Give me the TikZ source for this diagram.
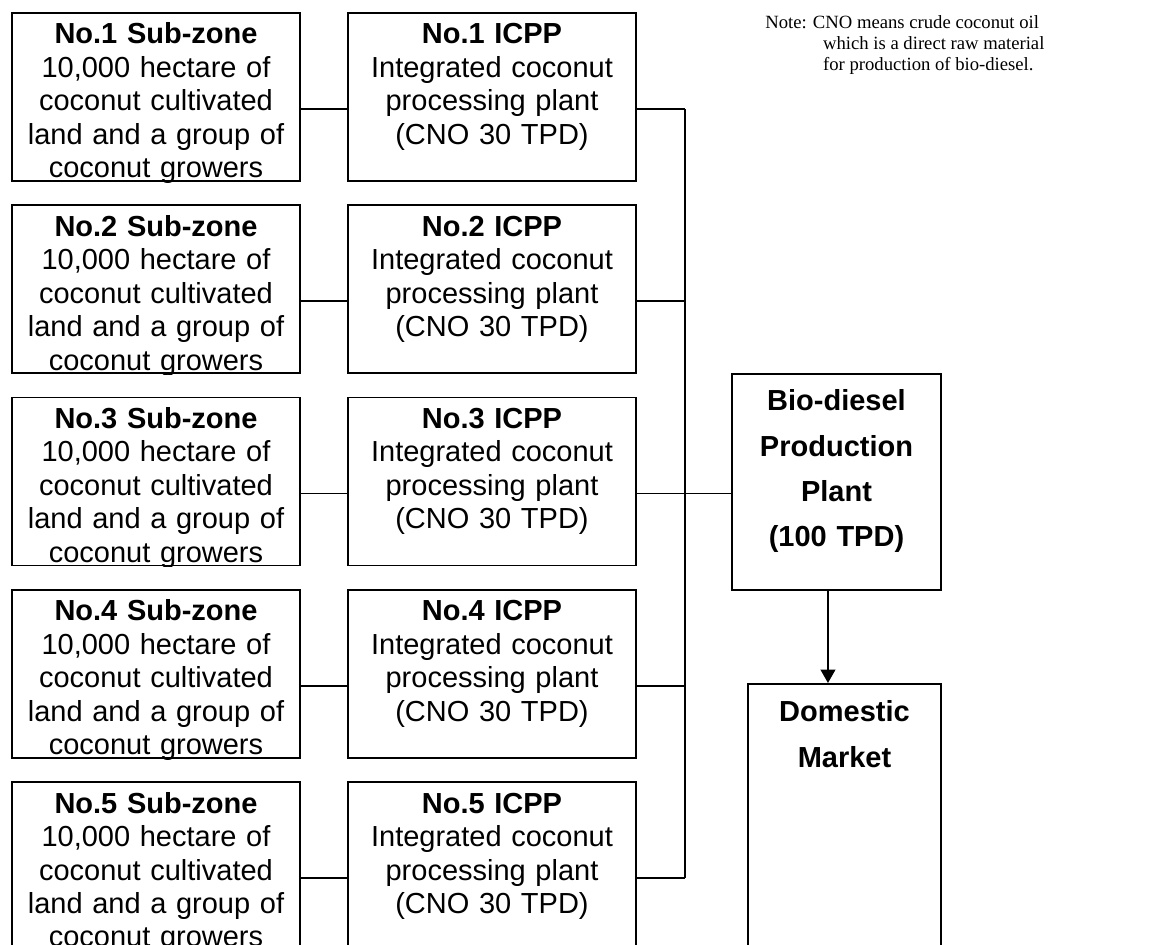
\documentclass[tikz,border=0pt]{standalone}
\usepackage{fontspec}
\setmainfont{Liberation Sans}
\newfontfamily\notefont{Liberation Serif}
\usetikzlibrary{arrows.meta, positioning, calc}

\begin{document}
\begin{tikzpicture}[x=0.75pt, y=-0.75pt, >={Triangle[width=11pt,length=10pt]},
    zone/.style={draw, line width=1.35pt, inner sep=0pt, anchor=north, align=center,
        text width=216pt, text height=23.25pt, text depth=102.75pt,
        font=\fontsize{21.75}{25.1}\selectfont},
    plant/.style={zone},
    big/.style={draw, line width=1.35pt, inner sep=0pt, anchor=north, align=center,
        font=\bfseries\fontsize{21.75}{34}\selectfont},
    link/.style={line width=1.35pt}]
    \useasboundingbox (0,0) rectangle (1154,945);
    \foreach \i in {1,...,5} {
        \node[zone] (z\i) at (156,{12+192.3*(\i-1)})
            {\textbf{No.\i\ Sub-zone}\\10,000 hectare of\\coconut cultivated\\land and a group of\\coconut growers};
        \fill[white] ([yshift=-0.7pt]z\i.south west) rectangle ([yshift=-6pt]z\i.south east);
        \node[plant] (m\i) at (492,{12+192.3*(\i-1)})
            {\textbf{No.\i\ ICPP}\\Integrated coconut\\processing plant\\(CNO 30 TPD)};
        \draw[link] ([yshift=-9pt]z\i.east) -- ([yshift=-9pt]m\i.west);
        \draw[link] ([yshift=-9pt]m\i.east) -- ++(48,0) coordinate (b\i);
    }
    \draw[link] (b1) -- (b5);
    \node[big, text width=156.75pt, text height=27.75pt, text depth=134.25pt] (bio) at (836.5,373)
        {Bio-diesel\\Production\\Plant\\(100 TPD)};
    \draw[link] (b3) -- (b3 -| bio.west);
    \node[big, text width=144.75pt, text height=28.5pt, text depth=179.25pt] (dom) at (844.5,683)
        {Domestic\\Market};
    \draw[link, ->] ([xshift=-6.4pt]bio.south) -- ([xshift=-6.4pt]bio.south |- dom.north);
    \node[anchor=north west, inner sep=0pt, align=left, font=\notefont\fontsize{14}{15.75}\selectfont] (note) at (765,15)
        {Note: CNO means crude coconut oil\\\hspace*{3.1em}which is a direct raw material\\\hspace*{3.1em}for production of bio-diesel.};
\end{tikzpicture}
\end{document}
